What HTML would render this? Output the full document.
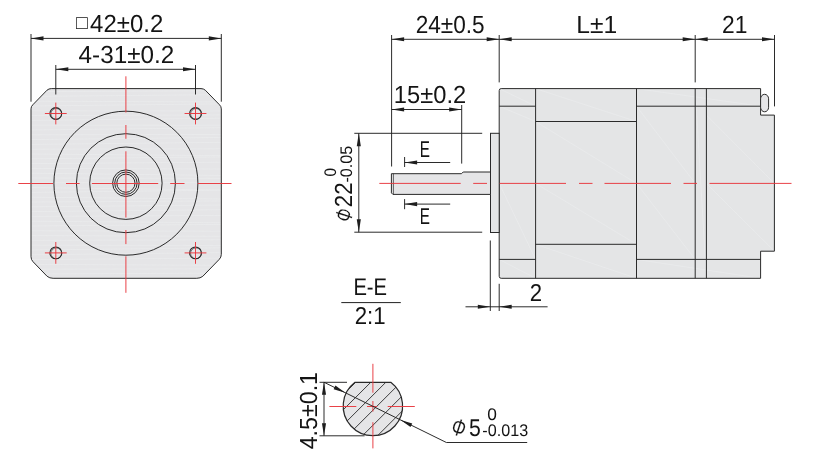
<!DOCTYPE html>
<html lang="en">
<head>
<meta charset="utf-8">
<title>Motor dimension drawing</title>
<style>
html,body{margin:0;padding:0;background:#fff;}
body{width:831px;height:460px;overflow:hidden;}
svg{display:block;will-change:transform;}
text{font-family:"Liberation Sans", "Noto Sans CJK SC", sans-serif;fill:#141414;text-rendering:geometricPrecision;}
</style>
</head>
<body>
<svg width="831" height="460" viewBox="0 0 831 460" role="img" aria-label="Motor dimension drawing">
<clipPath id="fb"><path d="M51.3,88.6 H201 Q203.5,88.6 205.3,90.2 L219.5,104.8 Q221.3,106.4 221.3,108.9 V254.3 Q221.3,257.3 219.3,259.3 L202.8,276.3 Q200.3,278.3 196.8,278.3 H53.1 Q49.6,278.3 47.1,276.3 L33,261.7 Q31,259.7 31,256.7 V108.9 Q31,106.4 32.8,104.8 L47,90.2 Q48.8,88.6 51.3,88.6 Z"/></clipPath>
<path d="M51.3,88.6 H201 Q203.5,88.6 205.3,90.2 L219.5,104.8 Q221.3,106.4 221.3,108.9 V254.3 Q221.3,257.3 219.3,259.3 L202.8,276.3 Q200.3,278.3 196.8,278.3 H53.1 Q49.6,278.3 47.1,276.3 L33,261.7 Q31,259.7 31,256.7 V108.9 Q31,106.4 32.8,104.8 L47,90.2 Q48.8,88.6 51.3,88.6 Z" fill="#e5e5e7"/>
<g clip-path="url(#fb)">
<line x1="31" y1="91.6" x2="221.3" y2="90.72" stroke="#eaebec" stroke-width="0.8"/>
<line x1="31" y1="96.4" x2="221.3" y2="94.65" stroke="#eaebec" stroke-width="0.8"/>
<line x1="31" y1="101.2" x2="221.3" y2="101.95" stroke="#eaebec" stroke-width="0.8"/>
<line x1="31" y1="106" x2="221.3" y2="103.86" stroke="#eaebec" stroke-width="0.8"/>
<line x1="31" y1="110.8" x2="221.3" y2="110.98" stroke="#eaebec" stroke-width="0.8"/>
<line x1="31" y1="115.6" x2="221.3" y2="114.93" stroke="#eaebec" stroke-width="0.8"/>
<line x1="31" y1="120.4" x2="221.3" y2="118.19" stroke="#eaebec" stroke-width="0.8"/>
<line x1="31" y1="125.2" x2="221.3" y2="125.24" stroke="#eaebec" stroke-width="0.8"/>
<line x1="31" y1="130" x2="221.3" y2="127.69" stroke="#eaebec" stroke-width="0.8"/>
<line x1="31" y1="134.8" x2="221.3" y2="134.47" stroke="#eaebec" stroke-width="0.8"/>
<line x1="31" y1="139.6" x2="221.3" y2="137.45" stroke="#eaebec" stroke-width="0.8"/>
<line x1="31" y1="144.4" x2="221.3" y2="142.35" stroke="#eaebec" stroke-width="0.8"/>
<line x1="31" y1="149.2" x2="221.3" y2="148.82" stroke="#eaebec" stroke-width="0.8"/>
<line x1="31" y1="154" x2="221.3" y2="155.63" stroke="#eaebec" stroke-width="0.8"/>
<line x1="31" y1="158.8" x2="221.3" y2="156.92" stroke="#eaebec" stroke-width="0.8"/>
<line x1="31" y1="163.6" x2="221.3" y2="162.22" stroke="#eaebec" stroke-width="0.8"/>
<line x1="31" y1="168.4" x2="221.3" y2="169.04" stroke="#eaebec" stroke-width="0.8"/>
<line x1="31" y1="173.2" x2="221.3" y2="175.44" stroke="#eaebec" stroke-width="0.8"/>
<line x1="31" y1="178" x2="221.3" y2="178.39" stroke="#eaebec" stroke-width="0.8"/>
<line x1="31" y1="182.8" x2="221.3" y2="182.28" stroke="#eaebec" stroke-width="0.8"/>
<line x1="31" y1="187.6" x2="221.3" y2="189.98" stroke="#eaebec" stroke-width="0.8"/>
<line x1="31" y1="192.4" x2="221.3" y2="190.13" stroke="#eaebec" stroke-width="0.8"/>
<line x1="31" y1="197.2" x2="221.3" y2="198.99" stroke="#eaebec" stroke-width="0.8"/>
<line x1="31" y1="202" x2="221.3" y2="200.95" stroke="#eaebec" stroke-width="0.8"/>
<line x1="31" y1="206.8" x2="221.3" y2="205.02" stroke="#eaebec" stroke-width="0.8"/>
<line x1="31" y1="211.6" x2="221.3" y2="209.69" stroke="#eaebec" stroke-width="0.8"/>
<line x1="31" y1="216.4" x2="221.3" y2="215.44" stroke="#eaebec" stroke-width="0.8"/>
<line x1="31" y1="221.2" x2="221.3" y2="222.78" stroke="#eaebec" stroke-width="0.8"/>
<line x1="31" y1="226" x2="221.3" y2="224.4" stroke="#eaebec" stroke-width="0.8"/>
<line x1="31" y1="230.8" x2="221.3" y2="231.21" stroke="#eaebec" stroke-width="0.8"/>
<line x1="31" y1="235.6" x2="221.3" y2="236.29" stroke="#eaebec" stroke-width="0.8"/>
<line x1="31" y1="240.4" x2="221.3" y2="239.76" stroke="#eaebec" stroke-width="0.8"/>
<line x1="31" y1="245.2" x2="221.3" y2="245.44" stroke="#eaebec" stroke-width="0.8"/>
<line x1="31" y1="250" x2="221.3" y2="247.81" stroke="#eaebec" stroke-width="0.8"/>
<line x1="31" y1="254.8" x2="221.3" y2="252.6" stroke="#eaebec" stroke-width="0.8"/>
<line x1="31" y1="259.6" x2="221.3" y2="258.13" stroke="#eaebec" stroke-width="0.8"/>
<line x1="31" y1="264.4" x2="221.3" y2="265.3" stroke="#eaebec" stroke-width="0.8"/>
<line x1="31" y1="269.2" x2="221.3" y2="268.84" stroke="#eaebec" stroke-width="0.8"/>
<line x1="31" y1="274" x2="221.3" y2="273.07" stroke="#eaebec" stroke-width="0.8"/>
<line x1="31" y1="278.8" x2="221.3" y2="279.23" stroke="#eaebec" stroke-width="0.8"/>
</g>
<path d="M51.3,88.6 H201 Q203.5,88.6 205.3,90.2 L219.5,104.8 Q221.3,106.4 221.3,108.9 V254.3 Q221.3,257.3 219.3,259.3 L202.8,276.3 Q200.3,278.3 196.8,278.3 H53.1 Q49.6,278.3 47.1,276.3 L33,261.7 Q31,259.7 31,256.7 V108.9 Q31,106.4 32.8,104.8 L47,90.2 Q48.8,88.6 51.3,88.6 Z" fill="none" stroke="#2a2a2a" stroke-width="1.0"/>
<circle cx="125.9" cy="183.2" r="72.0" fill="none" stroke="#2a2a2a" stroke-width="1"/>
<circle cx="125.9" cy="183.2" r="49.5" fill="none" stroke="#2a2a2a" stroke-width="1"/>
<circle cx="125.9" cy="183.2" r="36.2" fill="none" stroke="#2a2a2a" stroke-width="1"/>
<circle cx="125.9" cy="183.2" r="13.3" fill="none" stroke="#2a2a2a" stroke-width="1"/>
<circle cx="125.9" cy="183.2" r="11.2" fill="none" stroke="#2a2a2a" stroke-width="1"/>
<circle cx="125.9" cy="183.2" r="9.1" fill="none" stroke="#2a2a2a" stroke-width="1"/>
<circle cx="55.8" cy="113.5" r="5.9" fill="none" stroke="#2a2a2a" stroke-width="1.1"/>
<circle cx="56.3" cy="113.9" r="5.4" fill="none" stroke="#2a2a2a" stroke-width="0.6"/>
<line x1="44.9" y1="113.5" x2="66.7" y2="113.5" stroke="#e8383e" stroke-width="0.95"/>
<line x1="55.8" y1="102.6" x2="55.8" y2="124.4" stroke="#e8383e" stroke-width="0.95"/>
<circle cx="55.8" cy="252.9" r="5.9" fill="none" stroke="#2a2a2a" stroke-width="1.1"/>
<circle cx="56.3" cy="253.3" r="5.4" fill="none" stroke="#2a2a2a" stroke-width="0.6"/>
<line x1="44.9" y1="252.9" x2="66.7" y2="252.9" stroke="#e8383e" stroke-width="0.95"/>
<line x1="55.8" y1="242" x2="55.8" y2="263.8" stroke="#e8383e" stroke-width="0.95"/>
<circle cx="195.5" cy="113.5" r="5.9" fill="none" stroke="#2a2a2a" stroke-width="1.1"/>
<circle cx="196.0" cy="113.9" r="5.4" fill="none" stroke="#2a2a2a" stroke-width="0.6"/>
<line x1="184.6" y1="113.5" x2="206.4" y2="113.5" stroke="#e8383e" stroke-width="0.95"/>
<line x1="195.5" y1="102.6" x2="195.5" y2="124.4" stroke="#e8383e" stroke-width="0.95"/>
<circle cx="195.5" cy="252.9" r="5.9" fill="none" stroke="#2a2a2a" stroke-width="1.1"/>
<circle cx="196.0" cy="253.3" r="5.4" fill="none" stroke="#2a2a2a" stroke-width="0.6"/>
<line x1="184.6" y1="252.9" x2="206.4" y2="252.9" stroke="#e8383e" stroke-width="0.95"/>
<line x1="195.5" y1="242" x2="195.5" y2="263.8" stroke="#e8383e" stroke-width="0.95"/>
<line x1="18.3" y1="183.5" x2="53" y2="183.5" stroke="#e8383e" stroke-width="0.95"/>
<line x1="66" y1="183.5" x2="79.6" y2="183.5" stroke="#e8383e" stroke-width="0.95"/>
<line x1="91.9" y1="183.5" x2="158.2" y2="183.5" stroke="#e8383e" stroke-width="0.95"/>
<line x1="170.2" y1="183.5" x2="184.5" y2="183.5" stroke="#e8383e" stroke-width="0.95"/>
<line x1="197.7" y1="183.5" x2="231.5" y2="183.5" stroke="#e8383e" stroke-width="0.95"/>
<line x1="125.9" y1="76.3" x2="125.9" y2="112.5" stroke="#e8383e" stroke-width="0.95"/>
<line x1="125.9" y1="125" x2="125.9" y2="138.8" stroke="#e8383e" stroke-width="0.95"/>
<line x1="125.9" y1="151.3" x2="125.9" y2="217.5" stroke="#e8383e" stroke-width="0.95"/>
<line x1="125.9" y1="230" x2="125.9" y2="244.1" stroke="#e8383e" stroke-width="0.95"/>
<line x1="125.9" y1="256.3" x2="125.9" y2="292.8" stroke="#e8383e" stroke-width="0.95"/>
<line x1="31" y1="34" x2="31" y2="101.7" stroke="#202020" stroke-width="0.95"/>
<line x1="221.3" y1="34" x2="221.3" y2="101.7" stroke="#202020" stroke-width="0.95"/>
<line x1="31" y1="38.4" x2="221.3" y2="38.4" stroke="#202020" stroke-width="0.95"/>
<polygon points="31,38.4 43.5,36.35 43.5,40.45" fill="#1e1e1e"/>
<polygon points="221.3,38.4 208.8,40.45 208.8,36.35" fill="#1e1e1e"/>
<line x1="55.8" y1="65" x2="55.8" y2="94.5" stroke="#202020" stroke-width="0.95"/>
<line x1="195.5" y1="65" x2="195.5" y2="94.5" stroke="#202020" stroke-width="0.95"/>
<line x1="55.8" y1="69.3" x2="195.5" y2="69.3" stroke="#202020" stroke-width="0.95"/>
<polygon points="55.8,69.3 68.3,67.25 68.3,71.35" fill="#1e1e1e"/>
<polygon points="195.5,69.3 183,71.35 183,67.25" fill="#1e1e1e"/>
<text transform="translate(75.9,28.6) scale(1.0004,1)" font-size="19.5" fill="#555">□</text>
<text transform="translate(90.12,32) scale(0.9711,1)" font-size="24.7">42±0.2</text>
<text transform="translate(78.61,62.6) scale(0.9833,1)" font-size="24.7">4-31±0.2</text>
<path d="M501.2,88.6 H760.6 V115.1 H774.4 V251.2 H760.6 V278.3 H501.2 Q499.2,278.3 499.2,276.3 V90.6 Q499.2,88.6 501.2,88.6 Z" fill="#e4e5e6"/>
<line x1="535.6" y1="121.5" x2="636.5" y2="183.4" stroke="#eaebec" stroke-width="0.8"/>
<line x1="535.6" y1="183.4" x2="636.5" y2="244.3" stroke="#eaebec" stroke-width="0.8"/>
<line x1="499.2" y1="183.4" x2="535.6" y2="259.4" stroke="#eaebec" stroke-width="0.8"/>
<line x1="499.2" y1="106.2" x2="535.6" y2="121.5" stroke="#eaebec" stroke-width="0.8"/>
<line x1="636.5" y1="106.2" x2="695.2" y2="183.4" stroke="#eaebec" stroke-width="0.8"/>
<line x1="636.5" y1="183.4" x2="695.2" y2="259.4" stroke="#eaebec" stroke-width="0.8"/>
<line x1="706.4" y1="115.1" x2="774.4" y2="183.4" stroke="#eaebec" stroke-width="0.8"/>
<line x1="706.4" y1="183.4" x2="774.4" y2="251.2" stroke="#eaebec" stroke-width="0.8"/>
<line x1="499.2" y1="88.6" x2="535.6" y2="106.2" stroke="#eaebec" stroke-width="0.8"/>
<line x1="535.6" y1="88.6" x2="636.5" y2="121.5" stroke="#eaebec" stroke-width="0.8"/>
<line x1="535.6" y1="244.3" x2="636.5" y2="278.3" stroke="#eaebec" stroke-width="0.8"/>
<line x1="636.5" y1="259.4" x2="760.6" y2="278.3" stroke="#eaebec" stroke-width="0.8"/>
<line x1="636.5" y1="88.6" x2="760.6" y2="106.2" stroke="#eaebec" stroke-width="0.8"/>
<line x1="499.2" y1="259.4" x2="535.6" y2="278.3" stroke="#eaebec" stroke-width="0.8"/>
<line x1="695.2" y1="88.6" x2="706.4" y2="278.3" stroke="#eaebec" stroke-width="0.8"/>
<path d="M501.2,88.6 H760.6 V115.1 H774.4 V251.2 H760.6 V278.3 H501.2 Q499.2,278.3 499.2,276.3 V90.6 Q499.2,88.6 501.2,88.6 Z" fill="none" stroke="#2a2a2a" stroke-width="1.0"/>
<rect x="490.5" y="133.3" width="8.7" height="99.2" fill="#e4e5e6" stroke="#2a2a2a" stroke-width="1.0"/>
<path d="M490.5,172 H463.2 L461.5,173.7 H391.4 V192.9 L392.9,194.4 H490.5 Z" fill="#e5e5e7" stroke="#2a2a2a" stroke-width="1.0"/>
<line x1="393.4" y1="173.7" x2="393.4" y2="194.4" stroke="#2a2a2a" stroke-width="0.7"/>
<rect x="760.6" y="94.3" width="8" height="17.5" rx="4" ry="4.5" fill="#e5e5e7" stroke="#2a2a2a" stroke-width="1.0"/>
<line x1="535.6" y1="88.6" x2="535.6" y2="278.3" stroke="#2a2a2a" stroke-width="1.0"/>
<line x1="636.5" y1="88.6" x2="636.5" y2="278.3" stroke="#2a2a2a" stroke-width="1.0"/>
<line x1="695.2" y1="88.6" x2="695.2" y2="278.3" stroke="#2a2a2a" stroke-width="1.0"/>
<line x1="706.4" y1="88.6" x2="706.4" y2="278.3" stroke="#2a2a2a" stroke-width="1.0"/>
<line x1="499.2" y1="106.2" x2="535.6" y2="106.2" stroke="#2a2a2a" stroke-width="1.0"/>
<line x1="499.2" y1="259.4" x2="535.6" y2="259.4" stroke="#2a2a2a" stroke-width="1.0"/>
<line x1="535.6" y1="121.5" x2="636.5" y2="121.5" stroke="#2a2a2a" stroke-width="1.0"/>
<line x1="535.6" y1="244.3" x2="636.5" y2="244.3" stroke="#2a2a2a" stroke-width="1.0"/>
<line x1="636.5" y1="106.2" x2="760.6" y2="106.2" stroke="#2a2a2a" stroke-width="1.0"/>
<line x1="636.5" y1="259.4" x2="760.6" y2="259.4" stroke="#2a2a2a" stroke-width="1.0"/>
<line x1="379.3" y1="183.4" x2="460.7" y2="183.4" stroke="#e8383e" stroke-width="0.95"/>
<line x1="473.2" y1="183.4" x2="487" y2="183.4" stroke="#e8383e" stroke-width="0.95"/>
<line x1="499.7" y1="183.4" x2="566" y2="183.4" stroke="#e8383e" stroke-width="0.95"/>
<line x1="579" y1="183.4" x2="592.5" y2="183.4" stroke="#e8383e" stroke-width="0.95"/>
<line x1="604.5" y1="183.4" x2="671" y2="183.4" stroke="#e8383e" stroke-width="0.95"/>
<line x1="683.5" y1="183.4" x2="697" y2="183.4" stroke="#e8383e" stroke-width="0.95"/>
<line x1="709.5" y1="183.4" x2="791.5" y2="183.4" stroke="#e8383e" stroke-width="0.95"/>
<line x1="391.6" y1="35" x2="391.6" y2="166.5" stroke="#202020" stroke-width="0.95"/>
<line x1="499.2" y1="35" x2="499.2" y2="82.4" stroke="#202020" stroke-width="0.95"/>
<line x1="695.2" y1="35" x2="695.2" y2="82.4" stroke="#202020" stroke-width="0.95"/>
<line x1="774.5" y1="35" x2="774.5" y2="106.4" stroke="#202020" stroke-width="0.95"/>
<line x1="391.6" y1="39.3" x2="774.5" y2="39.3" stroke="#202020" stroke-width="0.95"/>
<polygon points="391.6,39.3 404.1,37.25 404.1,41.35" fill="#1e1e1e"/>
<polygon points="499.2,39.3 486.7,41.35 486.7,37.25" fill="#1e1e1e"/>
<polygon points="499.2,39.3 511.7,37.25 511.7,41.35" fill="#1e1e1e"/>
<polygon points="695.2,39.3 682.7,41.35 682.7,37.25" fill="#1e1e1e"/>
<polygon points="695.2,39.3 707.7,37.25 707.7,41.35" fill="#1e1e1e"/>
<polygon points="774.5,39.3 762,41.35 762,37.25" fill="#1e1e1e"/>
<text transform="translate(415.67,32.8) scale(0.9162,1)" font-size="24.7">24±0.5</text>
<text transform="translate(576.23,32.8) scale(0.9970,1)" font-size="24.7">L±1</text>
<text transform="translate(722.06,32.8) scale(0.9243,1)" font-size="24.7">21</text>
<line x1="461.7" y1="105" x2="461.7" y2="163.6" stroke="#202020" stroke-width="0.95"/>
<line x1="391.6" y1="109.5" x2="461.7" y2="109.5" stroke="#202020" stroke-width="0.95"/>
<polygon points="391.6,109.5 404.1,107.45 404.1,111.55" fill="#1e1e1e"/>
<polygon points="461.7,109.5 449.2,111.55 449.2,107.45" fill="#1e1e1e"/>
<text transform="translate(393.84,102.6) scale(0.9600,1)" font-size="24.7">15±0.2</text>
<line x1="354.3" y1="133.3" x2="482.2" y2="133.3" stroke="#202020" stroke-width="0.95"/>
<line x1="354.3" y1="232.2" x2="482.2" y2="232.2" stroke="#202020" stroke-width="0.95"/>
<line x1="358.8" y1="133.3" x2="358.8" y2="232.2" stroke="#202020" stroke-width="0.95"/>
<polygon points="358.8,133.3 360.85,146.3 356.75,146.3" fill="#1e1e1e"/>
<polygon points="358.8,232.2 356.75,219.2 360.85,219.2" fill="#1e1e1e"/>
<text transform="translate(352.2,207.32) rotate(-90) scale(0.9084,1)" font-size="24.7">22</text>
<text transform="translate(352.4,182.55) rotate(-90) scale(0.9618,1)" font-size="16.8">-0.05</text>
<text transform="translate(336,176.46) rotate(-90) scale(0.9111,1)" font-size="16.8">0</text>
<text transform="translate(344,215) rotate(-90) rotate(18) scale(0.66,1) translate(-9.54,8.4)" font-size="24.0" stroke="#fff" stroke-width="0.15">Φ</text>
<line x1="404.6" y1="157" x2="404.6" y2="167" stroke="#202020" stroke-width="0.95"/>
<line x1="404.6" y1="162.5" x2="450.2" y2="162.5" stroke="#202020" stroke-width="0.95"/>
<polygon points="404.6,162.5 417.1,160.45 417.1,164.55" fill="#1e1e1e"/>
<line x1="404.6" y1="199.1" x2="404.6" y2="209.2" stroke="#202020" stroke-width="0.95"/>
<line x1="404.6" y1="204.1" x2="450.2" y2="204.1" stroke="#202020" stroke-width="0.95"/>
<polygon points="404.6,204.1 417.1,202.05 417.1,206.15" fill="#1e1e1e"/>
<text transform="translate(419.68,156.9) scale(0.6640,1)" font-size="23">E</text>
<text transform="translate(419.68,224.4) scale(0.6640,1)" font-size="23">E</text>
<text transform="translate(353.38,295.2) scale(0.8414,1)" font-size="24">E-E</text>
<line x1="341.3" y1="302.6" x2="400.8" y2="302.6" stroke="#202020" stroke-width="1"/>
<text transform="translate(354.69,323.5) scale(0.9084,1)" font-size="24.5">2:1</text>
<line x1="490.3" y1="240.5" x2="490.3" y2="311" stroke="#202020" stroke-width="0.95"/>
<line x1="499.2" y1="283.8" x2="499.2" y2="311" stroke="#202020" stroke-width="0.95"/>
<line x1="465.5" y1="306.8" x2="547.6" y2="306.8" stroke="#202020" stroke-width="0.95"/>
<polygon points="490.3,306.8 477.8,308.85 477.8,304.75" fill="#1e1e1e"/>
<polygon points="499.2,306.8 511.7,304.75 511.7,308.85" fill="#1e1e1e"/>
<text transform="translate(529.79,300.7) scale(0.9051,1)" font-size="24.5">2</text>
<clipPath id="sec"><path d="M355,382.3 H390.8 A29.7,29.7 0 1 1 355,382.3 Z"/></clipPath>
<path d="M355,382.3 H390.8 A29.7,29.7 0 1 1 355,382.3 Z" fill="#e5e5e7"/>
<g clip-path="url(#sec)">
<line x1="332.9" y1="405.1" x2="412.9" y2="325.1" stroke="#2a2a2a" stroke-width="0.9"/>
<line x1="332.9" y1="420.15" x2="412.9" y2="340.15" stroke="#2a2a2a" stroke-width="0.9"/>
<line x1="332.9" y1="435.2" x2="412.9" y2="355.2" stroke="#2a2a2a" stroke-width="0.9"/>
<line x1="332.9" y1="450.25" x2="412.9" y2="370.25" stroke="#2a2a2a" stroke-width="0.9"/>
<line x1="332.9" y1="465.3" x2="412.9" y2="385.3" stroke="#2a2a2a" stroke-width="0.9"/>
<line x1="332.9" y1="480.35" x2="412.9" y2="400.35" stroke="#2a2a2a" stroke-width="0.9"/>
</g>
<path d="M355,382.3 H390.8 A29.7,29.7 0 1 1 355,382.3 Z" fill="none" stroke="#2a2a2a" stroke-width="1.2"/>
<line x1="329.4" y1="406.5" x2="356.3" y2="406.5" stroke="#e8383e" stroke-width="0.95"/>
<line x1="367" y1="406.5" x2="377.2" y2="406.5" stroke="#e8383e" stroke-width="0.95"/>
<line x1="387.7" y1="406.5" x2="414.8" y2="406.5" stroke="#e8383e" stroke-width="0.95"/>
<line x1="372.9" y1="363.8" x2="372.9" y2="392.7" stroke="#e8383e" stroke-width="0.95"/>
<line x1="372.9" y1="401" x2="372.9" y2="411.6" stroke="#e8383e" stroke-width="0.95"/>
<line x1="372.9" y1="422.2" x2="372.9" y2="448.4" stroke="#e8383e" stroke-width="0.95"/>
<line x1="319.5" y1="382.3" x2="347" y2="382.3" stroke="#202020" stroke-width="0.95"/>
<line x1="319.5" y1="435.8" x2="364.6" y2="435.8" stroke="#202020" stroke-width="0.95"/>
<line x1="324" y1="382.3" x2="324" y2="435.8" stroke="#202020" stroke-width="0.95"/>
<polygon points="324,382.3 326.05,394.8 321.95,394.8" fill="#1e1e1e"/>
<polygon points="324,435.8 321.95,423.3 326.05,423.3" fill="#1e1e1e"/>
<text transform="translate(317,449.37) rotate(-90) scale(0.9417,1)" font-size="24.7">4.5±0.1</text>
<polyline points="323.9,382.2 446.4,442.5 527.2,442.5" fill="none" stroke="#202020" stroke-width="0.95"/>
<polygon points="345.3,392.73 333.63,389.27 335.44,385.6" fill="#1e1e1e"/>
<polygon points="400.6,419.96 412.27,423.42 410.46,427.09" fill="#1e1e1e"/>
<text transform="translate(458.9,427.5) rotate(18) scale(0.725,1) translate(-9.54,8.4)" font-size="24.0" stroke="#fff" stroke-width="0.15">Φ</text>
<text transform="translate(468.95,436) scale(0.8781,1)" font-size="24.2">5</text>
<text transform="translate(482.35,435.7) scale(0.9621,1)" font-size="16.8">-0.013</text>
<text transform="translate(487.18,420) scale(1.0326,1)" font-size="16.8">0</text>
</svg>
</body>
</html>
